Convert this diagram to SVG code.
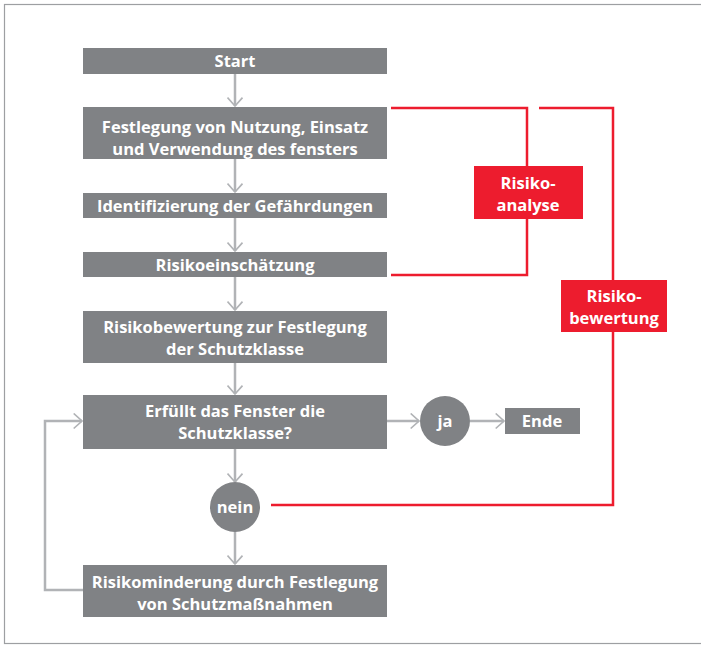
<svg xmlns="http://www.w3.org/2000/svg" width="701" height="646" viewBox="0 0 701 646">
<defs>
<style>
.box{fill:#808285}
.red{fill:#ED1C2E}
.t{fill:#fff;font-family:"Open Sans","Liberation Sans",sans-serif;font-weight:700;font-size:16.5px;text-anchor:middle}
.c{fill:none;stroke:#b1b3b6;stroke-width:2.5}
.r{fill:none;stroke:#ED1C2E;stroke-width:2.5}
</style>
<marker id="ah" viewBox="0 0 12 20" refX="11" refY="10" markerWidth="10" markerHeight="17" markerUnits="userSpaceOnUse" orient="auto">
<path d="M1,1 L11,10 L1,19" fill="none" stroke="#b1b3b6" stroke-width="2"/>
</marker>
</defs>
<rect x="0" y="0" width="701" height="646" fill="#fff"/>
<rect x="4.5" y="4.5" width="710" height="639" fill="none" stroke="#9d9fa2" stroke-width="1.2"/>
<g id="connectors">
<path class="c" marker-end="url(#ah)" d="M235,74 V106"/>
<path class="c" marker-end="url(#ah)" d="M235,159 V192"/>
<path class="c" marker-end="url(#ah)" d="M235,218 V251"/>
<path class="c" marker-end="url(#ah)" d="M235,277 V310"/>
<path class="c" marker-end="url(#ah)" d="M235,363 V394"/>
<path class="c" marker-end="url(#ah)" d="M387,421 V421 H419"/>
<path class="c" marker-end="url(#ah)" d="M470,421 H504"/>
<path class="c" marker-end="url(#ah)" d="M235,449 V482"/>
<path class="c" marker-end="url(#ah)" d="M235,531 V564"/>
<path class="c" marker-end="url(#ah)" d="M83,590 H45 V421 H82"/>
<path class="r" d="M391,108 H527 V275 H391"/>
<path class="r" d="M539,108 H613 V505 H271"/>
</g>
<g id="start"><rect class="box" x="83" y="48" width="304" height="26"/><text class="t" x="235" y="67">Start</text></g>
<g id="festlegung"><rect class="box" x="83" y="107" width="304" height="52"/><text class="t" x="235" y="133">Festlegung von Nutzung, Einsatz</text><text class="t" x="235" y="155">und Verwendung des fensters</text></g>
<g id="identifizierung"><rect class="box" x="83" y="193" width="304" height="25"/><text class="t" x="235" y="212">Identifizierung der Gefährdungen</text></g>
<g id="einschaetzung"><rect class="box" x="83" y="252" width="304" height="25"/><text class="t" x="235" y="271">Risikoeinschätzung</text></g>
<g id="bewertung"><rect class="box" x="83" y="311" width="304" height="52"/><text class="t" x="235" y="333">Risikobewertung zur Festlegung</text><text class="t" x="235" y="355">der Schutzklasse</text></g>
<g id="erfuellt"><rect class="box" x="83" y="395" width="304" height="54"/><text class="t" x="235" y="417">Erfüllt das Fenster die</text><text class="t" x="235" y="439">Schutzklasse?</text></g>
<g id="ja"><circle class="box" cx="445" cy="421" r="25"/><text class="t" x="445" y="427">ja</text></g>
<g id="ende"><rect class="box" x="505" y="408" width="75" height="26"/><text class="t" x="542" y="427">Ende</text></g>
<g id="nein"><circle class="box" cx="235" cy="507" r="25"/><text class="t" x="235" y="513">nein</text></g>
<g id="minderung"><rect class="box" x="83" y="565" width="304" height="52"/><text class="t" x="235" y="588">Risikominderung durch Festlegung</text><text class="t" x="235" y="610">von Schutzmaßnahmen</text></g>
<g id="risikoanalyse"><rect class="red" x="474" y="166" width="109" height="53"/><text class="t" x="528" y="189">Risiko-</text><text class="t" x="528" y="211">analyse</text></g>
<g id="risikobewertung"><rect class="red" x="561" y="280" width="106" height="52"/><text class="t" x="614" y="302">Risiko-</text><text class="t" x="614" y="324">bewertung</text></g>
</svg>
